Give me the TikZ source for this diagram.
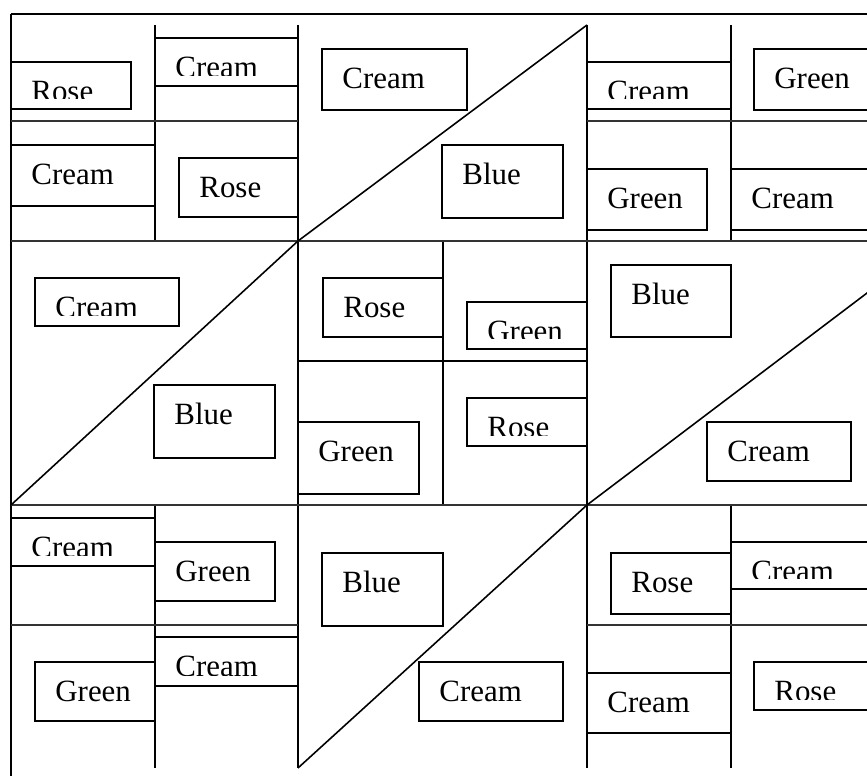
\documentclass[tikz,border=0pt]{standalone}
\usepackage{fontspec}
\setmainfont{Liberation Serif}
\usetikzlibrary{fit, calc}
\tikzset{
    % Quilt blocks
    patch/.style={rectangle, draw, line width=1.1pt, inner sep=0pt},
    plabel/.style={anchor=base west, inner sep=0pt,
                font=\fontsize{17.6pt}{21pt}\selectfont},
    seam/.style={line width=1.1pt},
    rowseam/.style={line width=1.2pt, black!80},
    diag/.style={line width=0.9pt},
}
\begin{document}
\begin{tikzpicture}[x=0.02cm, y=-0.02cm]
\useasboundingbox (0,0) rectangle (867,776);
\clip (0,0) rectangle (867,776);

\draw[seam] (11,14) -- (867,14);
\draw[seam] (11,14) -- (11,776);
\foreach \x in {155,731} {
  \draw[seam] (\x,25) -- (\x,241);
  \draw[seam] (\x,505) -- (\x,768);
}
\foreach \x in {298,587} \draw[seam] (\x,25) -- (\x,768);
\draw[seam] (443,241) -- (443,505);
\draw[seam] (298,361) -- (587,361);
\foreach \y in {241,505} \draw[rowseam] (11,\y) -- (867,\y);
\foreach \y in {121,625} {
  \draw[rowseam] (11,\y) -- (298,\y);
  \draw[rowseam] (587,\y) -- (867,\y);
}
\draw[diag] (298,241) -- (587,25);
\draw[diag] (11,505) -- (298,241);
\draw[diag] (587,505) -- (875,287);
\draw[diag] (298,768) -- (587,505);

% top row
\node[patch, fit={(11,62) (131,109)}]   (rose1)   {};
\node[patch, fit={(155,38) (298,86)}]   (cream1)  {};
\node[patch, fit={(11,145) (155,206)}]  (cream2)  {};
\node[patch, fit={(179,158) (298,217)}] (rose2)   {};
\node[patch, fit={(322,49) (467,110)}]  (cream3)  {};
\node[patch, fit={(442,145) (563,218)}] (blue1)   {};
\node[patch, fit={(587,62) (731,109)}]  (cream4)  {};
\node[patch, fit={(754,49) (875,110)}]  (green1)  {};
\node[patch, fit={(587,169) (707,230)}] (green2)  {};
\node[patch, fit={(731,169) (875,230)}] (cream5)  {};

% middle row
\node[patch, fit={(35,278) (179,326)}]  (cream6)  {};
\node[patch, fit={(154,385) (275,458)}] (blue2)   {};
\node[patch, fit={(323,278) (443,337)}] (rose3)   {};
\node[patch, fit={(467,302) (587,349)}] (green3)  {};
\node[patch, fit={(298,422) (419,494)}] (green4)  {};
\node[patch, fit={(467,398) (587,446)}] (rose4)   {};
\node[patch, fit={(611,265) (731,337)}] (blue3)   {};
\node[patch, fit={(707,422) (851,481)}] (cream7)  {};

% bottom row
\node[patch, fit={(11,518) (155,566)}]  (cream8)  {};
\node[patch, fit={(155,542) (275,601)}] (green5)  {};
\node[patch, fit={(155,637) (298,686)}] (cream9)  {};
\node[patch, fit={(35,662) (155,721)}]  (green6)  {};
\node[patch, fit={(322,553) (443,626)}] (blue4)   {};
\node[patch, fit={(419,662) (563,721)}] (cream10) {};
\node[patch, fit={(611,553) (731,614)}] (rose5)   {};
\node[patch, fit={(731,542) (875,589)}] (cream11) {};
\node[patch, fit={(587,673) (731,733)}] (cream12) {};
\node[patch, fit={(754,662) (875,710)}] (rose6)   {};

\foreach \b/\t in {cream2/Cream, rose2/Rose, cream3/Cream, blue1/Blue,
    green1/Green, green2/Green, cream5/Cream, blue2/Blue, rose3/Rose,
    green4/Green, blue3/Blue, cream7/Cream, green5/Green, green6/Green,
    blue4/Blue, cream10/Cream, rose5/Rose, cream12/Cream}
  \node[plabel] at ([shift={(21,40)}]\b.north west) {\t};

\foreach \b/\t in {rose1/Rose, cream1/Cream, cream4/Cream, cream6/Cream,
    green3/Green, rose4/Rose, cream8/Cream, cream9/Cream, cream11/Cream,
    rose6/Rose} {
  \begin{scope}
    \clip (\b.north west) rectangle ([shift={(0,-11)}]\b.south east);
    \node[plabel] at ([shift={(21,40)}]\b.north west) {\t};
  \end{scope}
}
\end{tikzpicture}
\end{document}
